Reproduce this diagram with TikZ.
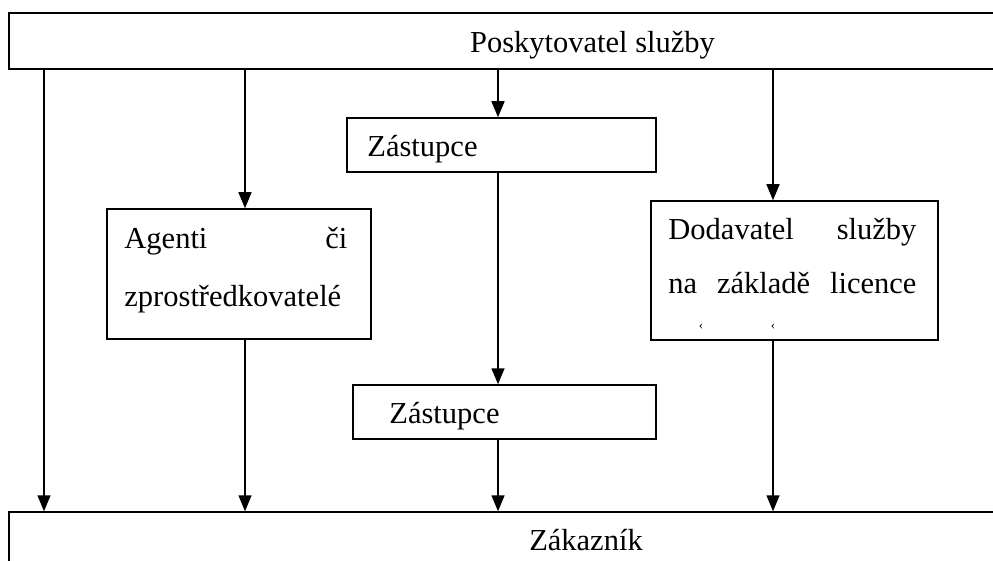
\documentclass[tikz,border=0pt]{standalone}
\usepackage{fontspec}
\setmainfont{Liberation Serif}
\usetikzlibrary{positioning, arrows.meta}

\begin{document}
\begin{tikzpicture}[
    x=1pt, y=-1pt,
    box/.style={rectangle, draw=black, line width=1.5pt, inner sep=0pt},
    txt/.style={inner sep=0pt, font=\fontsize{30.5}{53}\selectfont},
    arr/.style={-{Triangle[length=16pt, width=13pt]}, line width=1.5pt},
  ]
    \useasboundingbox (0,0) rectangle (993,561);
    \clip (0,0) rectangle (993,561);

    % boxes
    \node[box, minimum width=1167pt, minimum height=56pt] (prov) at (592.5,41) {};
    \node[box, minimum width=1154pt, minimum height=56pt] (cust) at (586,540) {};
    \node[box, minimum width=309pt, minimum height=54pt] (zast1) at (501.5,145) {};
    \node[box, minimum width=303pt, minimum height=54pt] (zast2) at (504.5,412) {};
    \node[box, minimum width=264pt, minimum height=130pt] (agent) at (239,274) {};
    \node[box, minimum width=287pt, minimum height=139pt] (dod) at (794.5,270.5) {};

    % texts
    \node[txt, anchor=base] (provtext) at ([yshift=-12pt]prov.center) {Poskytovatel služby};
    \node[txt, anchor=base] (custtext) at ([yshift=-10pt]cust.center) {Zákazník};
    \node[txt, anchor=base west] (zast1text) at ([xshift=21pt, yshift=-12pt]zast1.west) {Zástupce};
    \node[txt, anchor=base west] (zast2text) at ([xshift=37pt, yshift=-11pt]zast2.west) {Zástupce};
    \node[txt, anchor=base west, text width=223pt, align=left, font=\fontsize{30.5}{58}\selectfont] (agenttext)
      at ([xshift=18pt, yshift=-40pt]agent.north west) {Agenti\hfill či\\zprostředkovatelé};
    \node[txt, anchor=base west, text width=248pt, align=left, font=\fontsize{30.5}{54}\selectfont] (dodtext)
      at ([xshift=18pt, yshift=-39pt]dod.north west) {Dodavatel\hfill služby\\na\hfill základě\hfill licence};
    \node[inner sep=0pt, font=\fontsize{13}{13}\selectfont] (mark1) at (701,327) {‹};
    \node[inner sep=0pt, font=\fontsize{13}{13}\selectfont] (mark2) at (773,327) {‹};

    % columns
    \coordinate (col1) at (44,0);
    \coordinate (col2) at (245,0);
    \coordinate (col3) at (498,0);
    \coordinate (col4) at (773,0);

    \draw[arr] (prov.south -| col1) -- (cust.north -| col1);
    \draw[arr] (prov.south -| col2) -- (agent.north -| col2);
    \draw[arr] (agent.south -| col2) -- (cust.north -| col2);
    \draw[arr] (prov.south -| col3) -- (zast1.north -| col3);
    \draw[arr] (zast1.south -| col3) -- (zast2.north -| col3);
    \draw[arr] (zast2.south -| col3) -- (cust.north -| col3);
    \draw[arr] (prov.south -| col4) -- (dod.north -| col4);
    \draw[arr] (dod.south -| col4) -- (cust.north -| col4);
  \end{tikzpicture}
\end{document}
